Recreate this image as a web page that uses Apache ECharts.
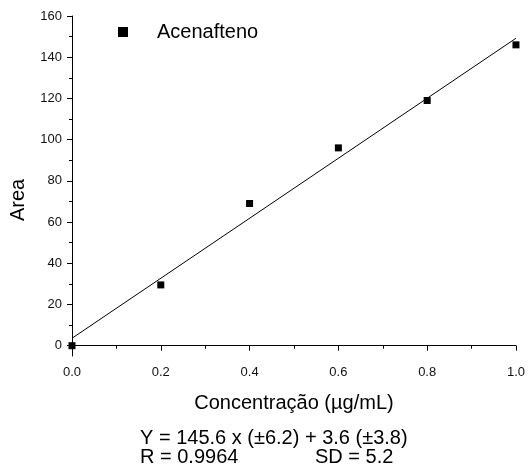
<!DOCTYPE html>
<html>
<head>
<meta charset="utf-8">
<script src="https://cdn.jsdelivr.net/npm/echarts@6/dist/echarts.min.js"></script>
<style>
  html, body { margin: 0; padding: 0; background: #fff; }
  #chart { width: 528px; height: 474px; }
</style>
</head>
<body>
<div id="chart"></div>
<script>
// dados
var concentracao = [0.0, 0.2, 0.4, 0.6, 0.8, 1.0];
var area = [0, 29.5, 69, 96, 119, 146];
var ajusteX = [0, 1];            // reta de regressao
var ajusteY = [3.6, 149.2];
var yMajor = [0, 20, 40, 60, 80, 100, 120, 140, 160];
var yMinor = [10, 30, 50, 70, 90, 110, 130, 150];
var serieNome = 'Acenafteno';
var linhaEq = 'Y = 145.6 x (\u00b16.2) + 3.6 (\u00b13.8)';
var linhaR = 'R = 0.9964';
var linhaSD = 'SD = 5.2';

var font = '"Liberation Sans", Arial, sans-serif';
var chart = echarts.init(document.getElementById('chart'), null, { renderer: 'canvas' });

var pontos = concentracao.map(function (x, i) { return [x, area[i]]; });
var reta = ajusteX.map(function (x, i) { return [x, ajusteY[i]]; });

var yBase = {
    type: 'value', min: -5, max: 160, position: 'left',
    splitLine: { show: false }
};

chart.setOption({
    animation: false,
    backgroundColor: '#fff',
    textStyle: { fontFamily: font, color: '#000' },
    grid: { left: 70, right: 9, top: 16, bottom: 118 },
    legend: {
        data: [serieNome],
        left: 118, top: 22, padding: 0,
        icon: 'rect', itemWidth: 10, itemHeight: 10,
        itemStyle: { opacity: 1 },
        textStyle: { fontSize: 20, fontFamily: font, color: '#000', padding: [0, 0, 0, 24] }
    },
    xAxis: {
        type: 'value', min: 0, max: 1, interval: 0.2,
        name: 'Concentra\u00e7\u00e3o (\u00b5g/mL)',
        nameLocation: 'middle', nameGap: 37,
        nameTextStyle: { fontSize: 20, fontFamily: font, color: '#000' },
        axisLine: { lineStyle: { color: '#000', width: 1 } },
        axisTick: { inside: false, length: 5, lineStyle: { color: '#000' } },
        minorTick: { show: true, splitNumber: 2, length: 3, lineStyle: { color: '#000' } },
        axisLabel: {
            fontSize: 13, color: '#111', margin: 10,
            formatter: function (v) { return v.toFixed(1); }
        },
        splitLine: { show: false }
    },
    yAxis: [
        Object.assign({}, yBase, {
            name: 'Area',
            nameLocation: 'middle', nameGap: 44,
            nameTextStyle: { fontSize: 20, fontFamily: font, color: '#000', padding: [0, 28, 0, 0] },
            axisLine: { show: true, lineStyle: { color: '#000', width: 1 } },
            axisTick: { show: true, length: 5, customValues: yMajor, lineStyle: { color: '#000' } },
            axisLabel: { fontSize: 13, color: '#111', margin: 10, customValues: yMajor }
        }),
        Object.assign({}, yBase, {
            axisLine: { show: false },
            axisTick: { show: true, length: 3, customValues: yMinor, lineStyle: { color: '#000' } },
            axisLabel: { show: false }
        })
    ],
    series: [
        {
            name: serieNome, type: 'scatter', data: pontos,
            symbol: 'rect', symbolSize: 7, clip: true,
            itemStyle: { color: '#000', opacity: 1 }
        },
        {
            name: 'ajuste', type: 'line', data: reta,
            symbol: 'none', silent: true,
            lineStyle: { color: '#000', width: 1 }
        }
    ],
    graphic: [
        { type: 'text', left: 140, top: 428, style: { text: linhaEq, font: '20px ' + font, fill: '#000' } },
        { type: 'text', left: 140, top: 447, style: { text: linhaR, font: '20px ' + font, fill: '#000' } },
        { type: 'text', left: 315, top: 447, style: { text: linhaSD, font: '20px ' + font, fill: '#000' } }
    ]
});
</script>
</body>
</html>
